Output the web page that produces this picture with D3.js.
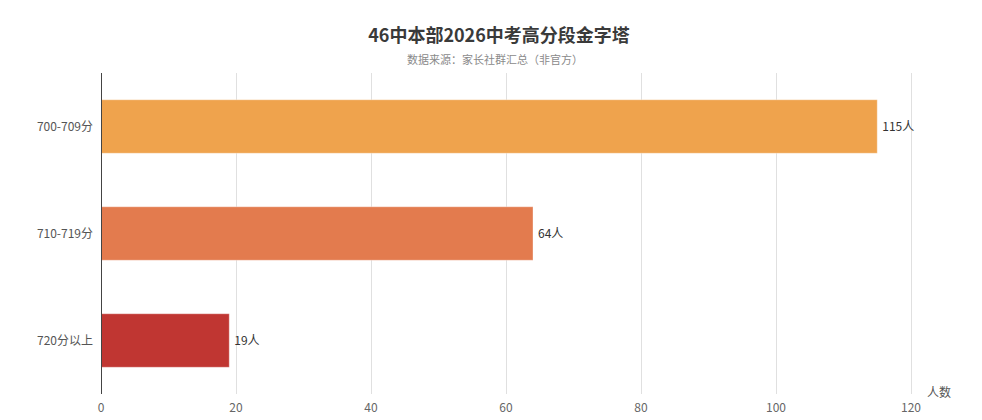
<!DOCTYPE html>
<html>
<head>
<meta charset="utf-8">
<script src="https://cdn.jsdelivr.net/npm/d3@7"></script>
<style>
  body { margin: 0; background: #fff; }
  svg { display: block; font-family: "Noto Sans CJK SC", "Noto Sans", sans-serif; }
</style>
</head>
<body>
<svg width="982" height="420"></svg>
<script>
const width = 982;
const height = 420;

// data
const categories = ["700-709分", "710-719分", "720分以上"];
const counts = [115, 64, 19];
const barColors = ["#efa34d", "#e37b4e", "#c03632"];
const xTicks = [0, 20, 40, 60, 80, 100, 120];

const margin = { top: 73, right: 71, bottom: 26, left: 101 };
const innerW = width - margin.left - margin.right;
const innerH = height - margin.top - margin.bottom;

const svg = d3.select("svg");

// title
svg.append("text")
  .attr("x", 499)
  .attr("y", 42)
  .attr("text-anchor", "middle")
  .style("font-size", "18px")
  .style("font-weight", "bold")
  .attr("fill", "#3a3a3a")
  .text("46中本部2026中考高分段金字塔");

svg.append("text")
  .attr("x", 495)
  .attr("y", 64)
  .attr("text-anchor", "middle")
  .style("font-size", "11px")
  .attr("fill", "#8a8a8a")
  .text("数据来源：家长社群汇总（非官方）");

const g = svg.append("g")
  .attr("transform", `translate(${margin.left},${margin.top})`);

const x = d3.scaleLinear().domain([0, 120]).range([0, innerW]);
const y = d3.scaleBand().domain(categories).range([0, innerH]).paddingInner(0.5).paddingOuter(0.25);

// vertical grid lines
g.selectAll("line.grid")
  .data(xTicks.slice(1))
  .enter()
  .append("line")
  .attr("class", "grid")
  .attr("x1", d => x(d) + 0.5)
  .attr("x2", d => x(d) + 0.5)
  .attr("y1", 0)
  .attr("y2", innerH)
  .attr("stroke", "#e0e0e0")
  .attr("stroke-width", 1);

// x tick labels
g.selectAll("text.xtick")
  .data(xTicks)
  .enter()
  .append("text")
  .attr("class", "xtick")
  .attr("x", d => x(d))
  .attr("y", innerH + 18)
  .attr("text-anchor", "middle")
  .style("font-size", "12px")
  .attr("fill", "#666")
  .text(d => d);

// axis name
g.append("text")
  .attr("x", innerW + 16)
  .attr("y", innerH + 3)
  .style("font-size", "12px")
  .attr("fill", "#555")
  .text("人数");

// bars
g.selectAll("rect.bar")
  .data(counts)
  .enter()
  .append("rect")
  .attr("class", "bar")
  .attr("x", 0)
  .attr("y", (d, i) => y(categories[i]))
  .attr("width", d => x(d))
  .attr("height", y.bandwidth())
  .attr("fill", (d, i) => barColors[i])
  .attr("stroke", "rgba(255,255,255,0.35)")
  .attr("stroke-width", 1);

// value labels
g.selectAll("text.val")
  .data(counts)
  .enter()
  .append("text")
  .attr("class", "val")
  .attr("x", d => x(d) + 5)
  .attr("y", (d, i) => y(categories[i]) + y.bandwidth() / 2)
  .attr("dy", "0.35em")
  .style("font-size", "12px")
  .attr("fill", "#333")
  .text(d => d + "人");

// y axis line
g.append("line")
  .attr("x1", 0.5).attr("x2", 0.5)
  .attr("y1", 0).attr("y2", innerH)
  .attr("stroke", "#444")
  .attr("stroke-width", 1);

// y category labels
g.selectAll("text.cat")
  .data(categories)
  .enter()
  .append("text")
  .attr("class", "cat")
  .attr("x", -8)
  .attr("y", d => y(d) + y.bandwidth() / 2)
  .attr("dy", "0.35em")
  .attr("text-anchor", "end")
  .style("font-size", "12px")
  .attr("fill", "#555")
  .text(d => d);
</script>
</body>
</html>
